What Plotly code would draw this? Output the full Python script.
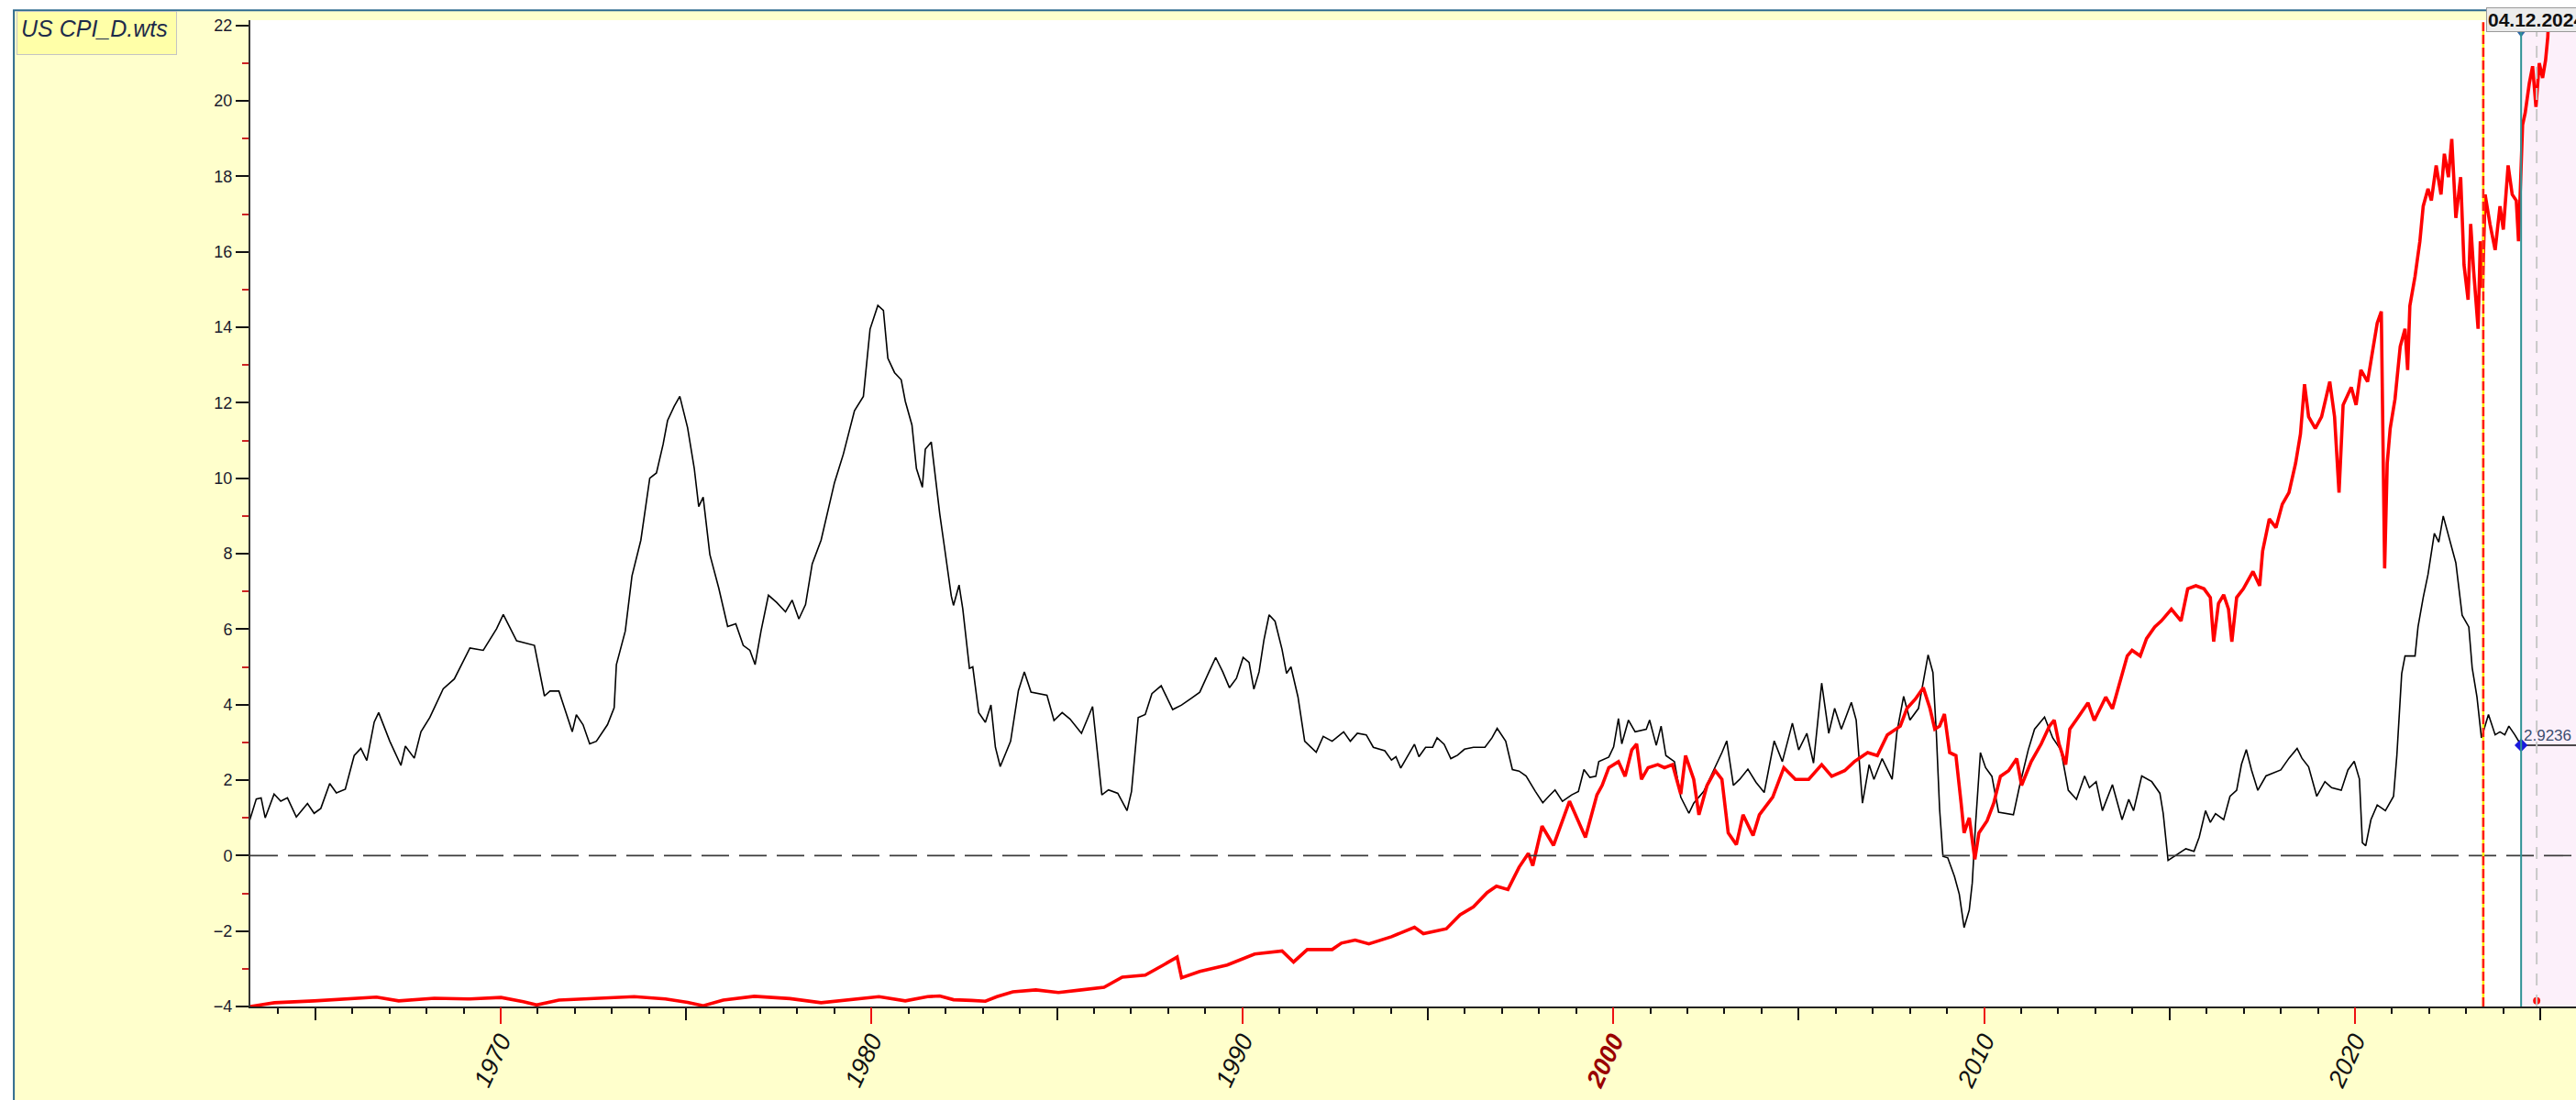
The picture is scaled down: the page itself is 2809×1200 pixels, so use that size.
import plotly.graph_objects as go

# --- US CPI, year-on-year % (decimal year, value) ---
cpi_dates = [
    1963.23, 1963.41, 1963.54, 1963.65, 1963.89, 1964.07, 1964.25, 1964.49, 1964.79, 1964.97,
    1965.15, 1965.39, 1965.57, 1965.81, 1966.05, 1966.23, 1966.39, 1966.59, 1966.71, 1967.01,
    1967.31, 1967.43, 1967.67, 1967.85, 1968.09, 1968.45, 1968.75, 1969.17, 1969.53, 1969.89,
    1970.07, 1970.43, 1970.91, 1971.18, 1971.33, 1971.57, 1971.93, 1972.04, 1972.22, 1972.40,
    1972.58, 1972.88, 1973.06, 1973.12, 1973.36, 1973.54, 1973.78, 1974.02, 1974.20, 1974.38,
    1974.50, 1974.68, 1974.83, 1975.04, 1975.22, 1975.34, 1975.46, 1975.64, 1975.88, 1976.12,
    1976.34, 1976.54, 1976.72, 1976.86, 1977.02, 1977.22, 1977.44, 1977.68, 1977.86, 1978.04,
    1978.22, 1978.40, 1978.64, 1978.76, 1979.00, 1979.24, 1979.54, 1979.78, 1979.96, 1980.17,
    1980.32, 1980.44, 1980.62, 1980.80, 1980.91, 1981.09, 1981.21, 1981.37, 1981.45, 1981.61,
    1981.75, 1981.84, 1981.96, 1982.15, 1982.21, 1982.36, 1982.46, 1982.64, 1982.73, 1982.89,
    1983.07, 1983.22, 1983.34, 1983.47, 1983.63, 1983.75, 1983.96, 1984.12, 1984.30, 1984.73,
    1984.92, 1985.14, 1985.35, 1985.66, 1985.96, 1986.09, 1986.21, 1986.39, 1986.64, 1986.89,
    1987.01, 1987.19, 1987.38, 1987.56, 1987.81, 1988.12, 1988.36, 1988.61, 1988.85, 1989.10,
    1989.28, 1989.47, 1989.65, 1989.84, 1990.02, 1990.18, 1990.31, 1990.45, 1990.58, 1990.72,
    1990.88, 1991.07, 1991.19, 1991.31, 1991.50, 1991.68, 1991.81, 1991.99, 1992.18, 1992.42,
    1992.73, 1992.91, 1993.10, 1993.34, 1993.53, 1993.84, 1994.02, 1994.14, 1994.27, 1994.64,
    1994.76, 1994.94, 1995.13, 1995.25, 1995.44, 1995.62, 1995.80, 1995.99, 1996.23, 1996.54,
    1996.73, 1996.87, 1997.10, 1997.28, 1997.46, 1997.65, 1997.90, 1998.10, 1998.26, 1998.43,
    1998.63, 1998.88, 1999.06, 1999.21, 1999.37, 1999.53, 1999.61, 1999.88, 2000.01, 2000.14,
    2000.23, 2000.41, 2000.59, 2000.89, 2000.98, 2001.16, 2001.29, 2001.42, 2001.65, 2001.82,
    2002.04, 2002.17, 2002.44, 2002.71, 2002.93, 2003.06, 2003.24, 2003.41, 2003.63, 2003.85,
    2004.07, 2004.34, 2004.56, 2004.83, 2005.00, 2005.22, 2005.40, 2005.62, 2005.81, 2005.97,
    2006.15, 2006.42, 2006.55, 2006.72, 2006.90, 2007.03, 2007.25, 2007.52, 2007.65, 2007.83,
    2008.00, 2008.23, 2008.36, 2008.49, 2008.62, 2008.71, 2008.80, 2008.89, 2009.02, 2009.20,
    2009.33, 2009.46, 2009.60, 2009.68, 2009.77, 2009.90, 2010.04, 2010.21, 2010.39, 2010.57,
    2010.79, 2010.96, 2011.19, 2011.36, 2011.63, 2011.85, 2012.07, 2012.27, 2012.49, 2012.71,
    2012.84, 2013.02, 2013.19, 2013.46, 2013.72, 2013.90, 2014.03, 2014.25, 2014.52, 2014.74,
    2014.83, 2014.96, 2015.22, 2015.44, 2015.66, 2015.80, 2015.97, 2016.10, 2016.24, 2016.46,
    2016.63, 2016.81, 2016.94, 2017.07, 2017.21, 2017.38, 2017.60, 2017.78, 2018.00, 2018.22,
    2018.44, 2018.57, 2018.75, 2018.97, 2019.19, 2019.37, 2019.63, 2019.81, 2019.98, 2020.12,
    2020.20, 2020.29, 2020.43, 2020.60, 2020.82, 2021.04, 2021.13, 2021.26, 2021.35, 2021.62,
    2021.70, 2021.84, 2021.97, 2022.14, 2022.26, 2022.38, 2022.58, 2022.72, 2022.89, 2023.07,
    2023.16, 2023.29, 2023.41, 2023.51, 2023.60, 2023.78, 2023.91, 2024.04, 2024.15, 2024.31,
    2024.48,
]
cpi_yoy = [
    0.93, 1.50, 1.53, 1.00, 1.63, 1.44, 1.53, 1.02, 1.38, 1.12,
    1.25, 1.91, 1.66, 1.76, 2.65, 2.84, 2.52, 3.54, 3.79, 3.03,
    2.39, 2.90, 2.58, 3.28, 3.66, 4.42, 4.68, 5.50, 5.44, 6.01,
    6.39, 5.69, 5.57, 4.23, 4.36, 4.36, 3.28, 3.73, 3.47, 2.96,
    3.03, 3.47, 3.92, 5.06, 5.95, 7.41, 8.36, 10.00, 10.14, 10.90,
    11.53, 11.91, 12.17, 11.34, 10.26, 9.25, 9.50, 7.98, 7.09, 6.07,
    6.14, 5.57, 5.44, 5.06, 5.95, 6.90, 6.71, 6.46, 6.77, 6.27,
    6.65, 7.73, 8.36, 8.87, 9.88, 10.64, 11.79, 12.17, 13.95, 14.58,
    14.45, 13.18, 12.80, 12.61, 12.04, 11.41, 10.26, 9.76, 10.77, 10.96,
    9.76, 9.05, 8.22, 6.88, 6.63, 7.17, 6.54, 4.96, 5.00, 3.79,
    3.53, 3.99, 2.87, 2.36, 2.74, 3.03, 4.37, 4.87, 4.33, 4.25,
    3.58, 3.79, 3.62, 3.24, 3.95, 2.70, 1.61, 1.74, 1.65, 1.19,
    1.70, 3.66, 3.74, 4.29, 4.50, 3.87, 3.99, 4.16, 4.33, 4.87,
    5.25, 4.87, 4.45, 4.70, 5.25, 5.12, 4.41, 4.87, 5.71, 6.38,
    6.21, 5.46, 4.83, 5.00, 4.20, 3.03, 2.91, 2.74, 3.16, 3.03,
    3.28, 3.03, 3.24, 3.20, 2.87, 2.78, 2.53, 2.62, 2.32, 2.95,
    2.62, 2.87, 2.87, 3.12, 2.95, 2.57, 2.66, 2.82, 2.87, 2.87,
    3.12, 3.37, 3.03, 2.28, 2.24, 2.11, 1.70, 1.40, 1.57, 1.74,
    1.44, 1.61, 1.70, 2.28, 2.07, 2.10, 2.49, 2.61, 2.88, 3.63,
    2.96, 3.59, 3.28, 3.35, 3.59, 2.92, 3.43, 2.65, 2.49, 1.55,
    1.12, 1.39, 1.70, 2.25, 2.73, 3.04, 1.86, 2.02, 2.29, 1.94,
    1.67, 3.04, 2.49, 3.51, 2.80, 3.24, 2.45, 4.57, 3.24, 3.90,
    3.35, 4.06, 3.59, 1.39, 2.41, 2.02, 2.57, 2.02, 3.28, 4.22,
    3.59, 3.90, 4.61, 5.32, 4.85, 3.28, 1.23, -0.02, -0.06, -0.55,
    -1.02, -1.91, -1.44, -0.73, 0.84, 2.73, 2.33, 2.10, 1.15, 1.12,
    1.08, 1.86, 2.80, 3.35, 3.67, 3.12, 2.80, 1.73, 1.49, 2.11,
    1.80, 1.96, 1.19, 1.88, 0.95, 1.49, 1.19, 2.11, 1.96, 1.65,
    1.11, -0.13, 0.03, 0.18, 0.11, 0.49, 1.19, 0.88, 1.11, 0.95,
    1.57, 1.73, 2.42, 2.81, 2.27, 1.73, 2.11, 2.19, 2.27, 2.58,
    2.84, 2.58, 2.35, 1.57, 1.96, 1.80, 1.73, 2.27, 2.50, 2.03,
    0.34, 0.26, 0.95, 1.34, 1.19, 1.57, 2.66, 4.82, 5.29, 5.29,
    6.06, 6.84, 7.45, 8.54, 8.31, 9.00, 8.23, 7.76, 6.37, 6.06,
    4.98, 4.20, 3.12, 3.43, 3.74, 3.20, 3.28, 3.20, 3.43, 3.20,
    2.9236,
]

# --- overlay series (red), decimal year / value on the same scale ---
overlay_dates = [
    1963.25, 1963.90, 1964.97, 1965.93, 1966.65, 1967.25, 1968.21, 1969.17, 1970.01, 1970.61,
    1970.97, 1971.57, 1972.53, 1973.60, 1974.44, 1975.04, 1975.46, 1976.00, 1976.84, 1977.80,
    1978.64, 1979.36, 1980.20, 1980.91, 1981.51, 1981.84, 1982.21, 1982.70, 1983.07, 1983.38,
    1983.81, 1984.43, 1985.04, 1985.66, 1986.27, 1986.76, 1987.38, 1987.87, 1988.24, 1988.36,
    1988.85, 1989.59, 1990.33, 1991.07, 1991.38, 1991.75, 1992.42, 1992.67, 1993.04, 1993.41,
    1994.02, 1994.64, 1994.88, 1995.50, 1995.87, 1996.23, 1996.60, 1996.85, 1997.16, 1997.46,
    1997.71, 1997.83, 1998.08, 1998.39, 1998.57, 1998.82, 1999.25, 1999.56, 1999.70, 1999.88,
    2000.14, 2000.32, 2000.50, 2000.63, 2000.76, 2000.94, 2001.20, 2001.38, 2001.60, 2001.82,
    2001.95, 2002.17, 2002.31, 2002.53, 2002.75, 2002.93, 2003.10, 2003.32, 2003.50, 2003.77,
    2003.94, 2004.30, 2004.60, 2004.91, 2005.27, 2005.62, 2005.89, 2006.24, 2006.50, 2006.86,
    2007.12, 2007.39, 2007.74, 2007.92, 2008.14, 2008.36, 2008.54, 2008.67, 2008.80, 2008.93,
    2009.07, 2009.24, 2009.38, 2009.46, 2009.60, 2009.75, 2009.86, 2010.08, 2010.26, 2010.44,
    2010.66, 2010.88, 2011.01, 2011.27, 2011.54, 2011.76, 2011.89, 2012.02, 2012.20, 2012.31,
    2012.53, 2012.80, 2012.97, 2013.28, 2013.46, 2013.63, 2013.86, 2013.99, 2014.21, 2014.38,
    2014.60, 2014.78, 2015.05, 2015.31, 2015.49, 2015.71, 2015.93, 2016.10, 2016.19, 2016.32,
    2016.46, 2016.59, 2016.68, 2016.81, 2016.99, 2017.12, 2017.25, 2017.43, 2017.51, 2017.69,
    2017.87, 2018.04, 2018.22, 2018.40, 2018.53, 2018.64, 2018.75, 2018.93, 2019.10, 2019.32,
    2019.45, 2019.57, 2019.68, 2019.90, 2020.03, 2020.16, 2020.34, 2020.47, 2020.60, 2020.71,
    2020.76, 2020.80, 2020.87, 2020.95, 2021.08, 2021.22, 2021.35, 2021.42, 2021.48, 2021.62,
    2021.75, 2021.84, 2021.97, 2022.06, 2022.19, 2022.32, 2022.41, 2022.52, 2022.61, 2022.72,
    2022.85, 2022.94, 2023.05, 2023.12, 2023.20, 2023.32, 2023.38, 2023.44, 2023.51, 2023.64,
    2023.78, 2023.91, 2024.00, 2024.13, 2024.24, 2024.35, 2024.41, 2024.48, 2024.52, 2024.59,
    2024.70, 2024.79, 2024.88, 2024.97, 2025.06, 2025.14, 2025.20, 2025.23,
]
overlay_vals = [
    -4.00, -3.90, -3.85, -3.80, -3.75, -3.85, -3.78, -3.80, -3.76, -3.87,
    -3.96, -3.83, -3.78, -3.74, -3.80, -3.89, -3.98, -3.83, -3.73, -3.79,
    -3.90, -3.83, -3.74, -3.85, -3.74, -3.72, -3.82, -3.84, -3.86, -3.74,
    -3.61, -3.56, -3.63, -3.56, -3.49, -3.22, -3.17, -2.90, -2.69, -3.24,
    -3.07, -2.90, -2.61, -2.53, -2.82, -2.49, -2.49, -2.32, -2.24, -2.34,
    -2.15, -1.90, -2.07, -1.94, -1.57, -1.36, -0.98, -0.81, -0.90, -0.31,
    0.06, -0.27, 0.78, 0.27, 0.78, 1.44, 0.48, 1.61, 1.86, 2.33,
    2.49, 2.10, 2.80, 2.96, 2.02, 2.33, 2.41, 2.33, 2.41, 1.63,
    2.65, 2.02, 1.08, 1.86, 2.25, 2.02, 0.60, 0.29, 1.08, 0.53,
    1.08, 1.55, 2.33, 2.02, 2.02, 2.41, 2.10, 2.25, 2.49, 2.73,
    2.65, 3.20, 3.43, 3.90, 4.14, 4.45, 3.90, 3.35, 3.43, 3.75,
    2.73, 2.65, 1.39, 0.60, 1.00, -0.10, 0.60, 0.92, 1.39, 2.10,
    2.25, 2.57, 1.86, 2.49, 2.96, 3.43, 3.59, 2.96, 2.41, 3.35,
    3.66, 4.05, 3.58, 4.20, 3.89, 4.51, 5.29, 5.44, 5.29, 5.75,
    6.06, 6.22, 6.53, 6.22, 7.07, 7.15, 7.07, 6.84, 5.67, 6.68,
    6.91, 6.53, 5.67, 6.84, 7.07, 7.30, 7.53, 7.15, 8.07, 8.92,
    8.69, 9.31, 9.62, 10.40, 11.17, 12.49, 11.63, 11.32, 11.63, 12.56,
    11.63, 9.62, 11.94, 12.41, 11.94, 12.87, 12.56, 13.34, 14.11, 14.42,
    10.71, 7.61, 10.40, 11.32, 12.10, 13.49, 13.96, 12.87, 14.57, 15.35,
    16.28, 17.21, 17.67, 17.36, 18.29, 17.52, 18.60, 17.98, 18.99, 16.90,
    17.98, 15.66, 14.73, 16.74, 15.50, 13.96, 16.28, 15.04, 17.52, 16.74,
    16.05, 17.21, 16.59, 18.29, 17.52, 17.36, 16.28, 18.13, 19.37, 19.68,
    20.46, 20.92, 19.84, 21.00, 20.61, 21.08, 21.70, 22.50,
]

# axis scales and markers
x_range = [1963.25, 2025.96]
y_range = [-4.0, 22.14]
decade_ticks = [1970, 1980, 1990, 2000, 2010, 2020]
highlight_year = 2000
cursor_date = 2024.48      # active cursor (teal line, pink zone to the right)
split_date = 2023.46       # red/yellow split line
marker_date = 2024.90      # grey dashed date line
marker_label = "04.12.2024"
title_text = "US CPI_D.wts"

FONT = "Liberation Sans, Arial, sans-serif"

fig = go.Figure()

# zero reference line (long dashes); lives on the overlay x-axis so it is built
fig.add_trace(go.Scatter(
    x=x_range, y=[0, 0], xaxis="x2", yaxis="y", mode="lines",
    line=dict(color="#3a3a3a", width=1.6, dash="30px,11px"),
    hoverinfo="skip", showlegend=False))

# CPI line
fig.add_trace(go.Scatter(
    x=cpi_dates, y=cpi_yoy, mode="lines",
    line=dict(color="#000000", width=1.6),
    name="US CPI", showlegend=False))

# red overlay series
fig.add_trace(go.Scatter(
    x=overlay_dates, y=overlay_vals, mode="lines",
    line=dict(color="#ff0000", width=3.6),
    name="overlay", showlegend=False, cliponaxis=True))

# last-value guide from cursor to the right edge
last_val = cpi_yoy[-1]
fig.add_trace(go.Scatter(
    x=[cursor_date, x_range[1]], y=[last_val, last_val], mode="lines",
    line=dict(color="#111111", width=1.5), hoverinfo="skip", showlegend=False))
fig.add_trace(go.Scatter(
    x=[cursor_date], y=[last_val], mode="markers",
    marker=dict(symbol="diamond", size=11, color="#1a1adc"),
    hoverinfo="skip", showlegend=False))

# cursor handle at the top of the teal line
fig.add_trace(go.Scatter(
    x=[cursor_date], y=[21.8], mode="markers",
    marker=dict(symbol="triangle-down", size=9, color="#2f6aa8"),
    hoverinfo="skip", showlegend=False, cliponaxis=False))

# red dot on the date line near the bottom
fig.add_trace(go.Scatter(
    x=[marker_date], y=[-3.85], mode="markers",
    marker=dict(symbol="circle", size=8, color="#ff1010", line=dict(width=0)),
    hoverinfo="skip", showlegend=False))

shapes = [
    # white margin strips around the framed panel
    dict(type="rect", xref="paper", yref="paper", x0=-0.12, x1=1.01,
         y0=1.0103, y1=1.03, fillcolor="white", line=dict(width=0), layer="below"),
    dict(type="rect", xref="paper", yref="paper", x0=-0.12, x1=-0.1021,
         y0=-0.2, y1=1.03, fillcolor="white", line=dict(width=0), layer="below"),
    # frame border
    dict(type="line", xref="paper", yref="paper", x0=-0.1021, x1=1.01,
         y0=1.0100, y1=1.0100, line=dict(color="#2f6b8f", width=2)),
    dict(type="line", xref="paper", yref="paper", x0=-0.1017, x1=-0.1017,
         y0=-0.2, y1=1.0100, line=dict(color="#2f6b8f", width=2)),
    # pink zone after the cursor
    dict(type="rect", xref="x", yref="paper", x0=cursor_date, x1=x_range[1],
         y0=0, y1=1, fillcolor="#fcf0fa", line=dict(width=0), layer="below"),
    # split line: yellow under red dashes
    dict(type="line", xref="x", yref="paper", x0=split_date, x1=split_date,
         y0=0, y1=0.998, line=dict(color="#ffee00", width=2.5)),
    dict(type="line", xref="x", yref="paper", x0=split_date, x1=split_date,
         y0=0, y1=0.998, line=dict(color="#ff1a1a", width=2.5, dash="10px,4px")),
    # grey dashed date line
    dict(type="line", xref="x", yref="paper", x0=marker_date, x1=marker_date,
         y0=0, y1=0.99, line=dict(color="#c8c8c8", width=2, dash="13px,10px")),
    # teal cursor line
    dict(type="line", xref="x", yref="paper", x0=cursor_date, x1=cursor_date,
         y0=0, y1=0.989, line=dict(color="#2f9296", width=2)),
]

ticktext = []
for yr in decade_ticks:
    if yr == highlight_year:
        ticktext.append(f"<span style='color:#990000'><b><i>{yr}</i></b></span>")
    else:
        ticktext.append(f"<i>{yr}</i>")

annotations = [
    dict(text=f"<i>{title_text}</i>", xref="paper", yref="paper",
         x=-0.1006, y=1.0093, xanchor="left", yanchor="top",
         width=165, height=38, align="left", valign="top",
         showarrow=False, bgcolor="#ffffa8", bordercolor="#c4c4c4", borderwidth=1,
         borderpad=4, font=dict(family=FONT, size=25, color="#1e2b4a")),
    dict(text=f"{last_val:.4f}", xref="x", yref="y", x=cursor_date, y=last_val,
         xanchor="left", yanchor="bottom", xshift=1, yshift=-1, showarrow=False,
         font=dict(family=FONT, size=17, color="#3d4d70")),
    dict(text=f"<b>{marker_label}</b>", xref="x", yref="paper", x=split_date,
         y=1.0005, xanchor="left", yanchor="middle", xshift=3, showarrow=False,
         bgcolor="#ececec", bordercolor="#9a9a9a", borderwidth=1, borderpad=1,
         font=dict(family=FONT, size=21, color="#111111")),
]

fig.update_layout(
    width=2809, height=1200, autosize=False,
    margin=dict(l=273, r=0, t=22, b=102, pad=0),
    paper_bgcolor="#ffffcc", plot_bgcolor="#ffffff",
    font=dict(family=FONT, color="#1b1b2f"),
    showlegend=False,
    shapes=shapes, annotations=annotations,
    xaxis=dict(
        range=x_range, autorange=False, showgrid=False, zeroline=False,
        showline=True, linecolor="#222222", linewidth=2,
        ticks="outside", tick0=1965, dtick=5, ticklen=13, tickwidth=2,
        tickcolor="#111111", showticklabels=False,
        minor=dict(ticks="outside", tick0=1965, dtick=1, ticklen=6,
                   tickwidth=1.5, tickcolor="#111111", showgrid=False),
    ),
    xaxis2=dict(
        range=x_range, autorange=False, overlaying="x", anchor="y", side="bottom",
        showgrid=False, zeroline=False, showline=False,
        tickmode="array", tickvals=decade_ticks, ticktext=ticktext,
        ticks="outside", ticklen=18, tickwidth=1.5, tickcolor="#ee1111",
        tickangle=-65, ticklabelstandoff=-8,
        tickfont=dict(family=FONT, size=27, color="#111111"),
    ),
    yaxis=dict(
        range=y_range, autorange=False, showgrid=False, zeroline=False,
        showline=True, linecolor="#333333", linewidth=2,
        ticks="outside", tick0=0, dtick=2, ticklen=14, tickwidth=2,
        tickcolor="#111111", tickfont=dict(family=FONT, size=18, color="#1b1b2f"),
        minor=dict(ticks="outside", dtick=1, ticklen=7, tickwidth=2,
                   tickcolor="#cc2222", showgrid=False),
    ),
)

fig.write_html("out.html")
